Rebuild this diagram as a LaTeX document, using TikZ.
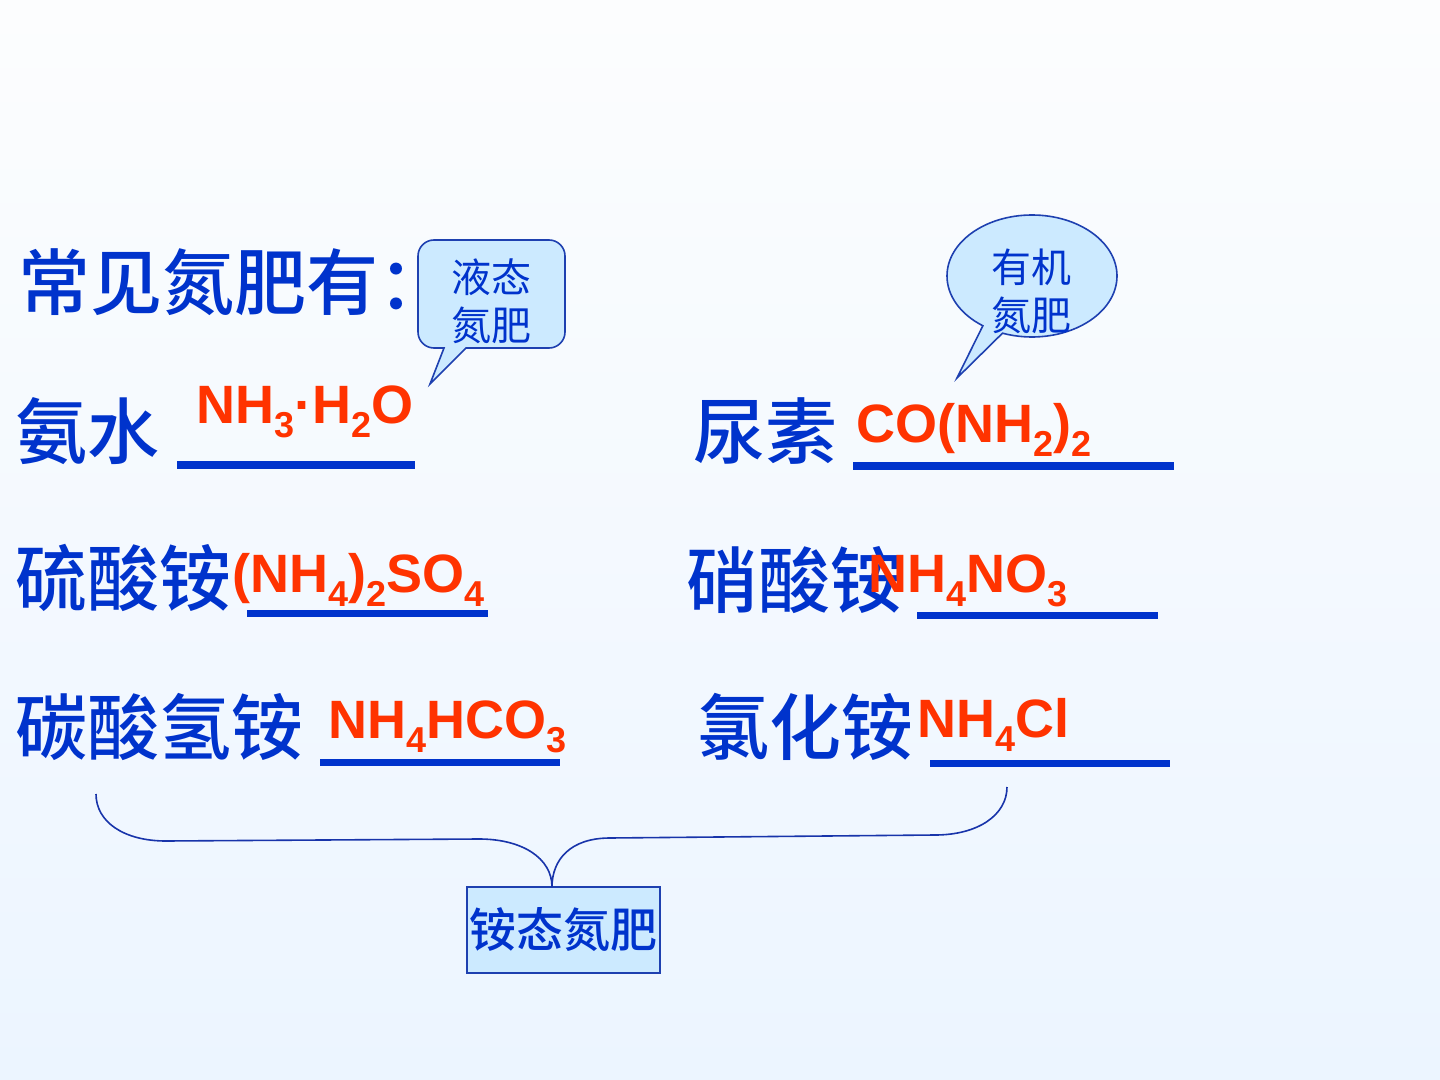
\documentclass[tikz,border=0pt]{standalone}
\usepackage{fontspec}
\setmainfont{Liberation Sans}
\newfontfamily\cjk{Noto Sans CJK SC}[BoldFont={Noto Sans CJK SC Medium}]
\usepackage{tikz}
\usetikzlibrary{shapes.callouts}

\definecolor{cnblue}{RGB}{0,51,204}
\definecolor{fred}{RGB}{255,51,0}
\definecolor{bubfill}{RGB}{204,234,255}
\definecolor{bubline}{RGB}{30,64,176}
\definecolor{braceblue}{RGB}{24,52,170}
\definecolor{bgtop}{RGB}{252,253,254}
\definecolor{bgbottom}{RGB}{236,245,255}

\newcommand{\chemsub}[1]{\raisebox{-7pt}{\fontsize{18}{18}\selectfont #1}}

\tikzset{
  ctext/.style={inner sep=0pt, anchor=west, text=cnblue, font=\cjk\bfseries\fontsize{36}{36}\selectfont},
  formula/.style={inner sep=0pt, anchor=base west, text=fred, font=\bfseries\fontsize{27}{27}\selectfont},
  blank/.style={draw=cnblue, line width=3.5pt},
  bubble/.style={draw=bubline, fill=bubfill, line width=0.8pt},
  bubtext/.style={inner sep=0pt, align=center, text=cnblue, font=\cjk\fontsize{20}{24}\selectfont},
  bracel/.style={draw=braceblue, line width=0.8pt},
  groupbox/.style={draw=bubline, fill=bubfill, line width=0.8pt, inner sep=0pt,
    minimum width=96.5pt, minimum height=43pt, text=cnblue, font=\cjk\bfseries\fontsize{23.5}{23.5}\selectfont}
}

\begin{document}
\begin{tikzpicture}[x=0.5pt, y=-0.5pt]
  \useasboundingbox (0,0) rectangle (1440,1080);
  \shade[top color=bgtop, bottom color=bgbottom] (0,0) rectangle (1440,1080);

  \node[ctext] (title) at (18,282) {常见氮肥有：};

  \node[ctext] (ammwater) at (15,431) {氨水};
  \node[ctext] (urea) at (693,431) {尿素};
  \node[ctext] (sulfate) at (15,578) {硫酸铵};
  \node[ctext] (nitrate) at (686,580) {硝酸铵};
  \node[ctext] (bicarb) at (15,727) {碳酸氢铵};
  \node[ctext] (chloride) at (697,727) {氯化铵};

  \foreach \xa/\xb/\y in {177/415/465, 853/1174/466, 247/488/613, 917/1158/615, 320/560/762, 930/1170/763}
    \draw[blank] (\xa,\y) -- (\xb,\y);

  \node[formula] (f1) at (196,423) {NH\chemsub{3}·H\chemsub{2}O};
  \node[formula] (f2) at (856,443) {CO(NH\chemsub{2})\chemsub{2}};
  \node[formula] (f3) at (232,592) {(NH\chemsub{4})\chemsub{2}SO\chemsub{4}};
  \node[formula] (f4) at (868,592) {NH\chemsub{4}NO\chemsub{3}};
  \node[formula] (f5) at (328,738) {NH\chemsub{4}HCO\chemsub{3}};
  \node[formula] (f6) at (917,737) {NH\chemsub{4}Cl};

  \coordinate (tipA) at (430,384);
  \draw[bubble] (tipA) -- (466,348) {[rounded corners=8pt] -- (565,348) -- (565,240) -- (418,240) -- (418,348)} -- (444,348) -- cycle;
  \node[bubtext] (liquid) at (491,301) {液态\\氮肥};

  \coordinate (tipB) at (957,378);
  \node[bubble, ellipse callout, inner sep=0pt, minimum width=85pt, minimum height=61pt,
    callout absolute pointer=(tipB)] (orgbub) at (1032,276) {};
  \node[bubtext] (organic) at (1031,291) {有机\\氮肥};

  \node[groupbox] (ammonium) at (563.5,930) {铵态氮肥};

  \coordinate (bl) at (96,794);
  \coordinate (tip) at (552,887);
  \coordinate (br) at (1007,787);
  \draw[bracel] (bl) .. controls (96,822) and (124,841) .. (166,841) -- (479,839)
    .. controls (522,839) and (552,858) .. (tip)
    .. controls (552,860) and (570,838) .. (610,838) -- (935,835)
    .. controls (978,835) and (1007,815) .. (br);
\end{tikzpicture}
\end{document}
